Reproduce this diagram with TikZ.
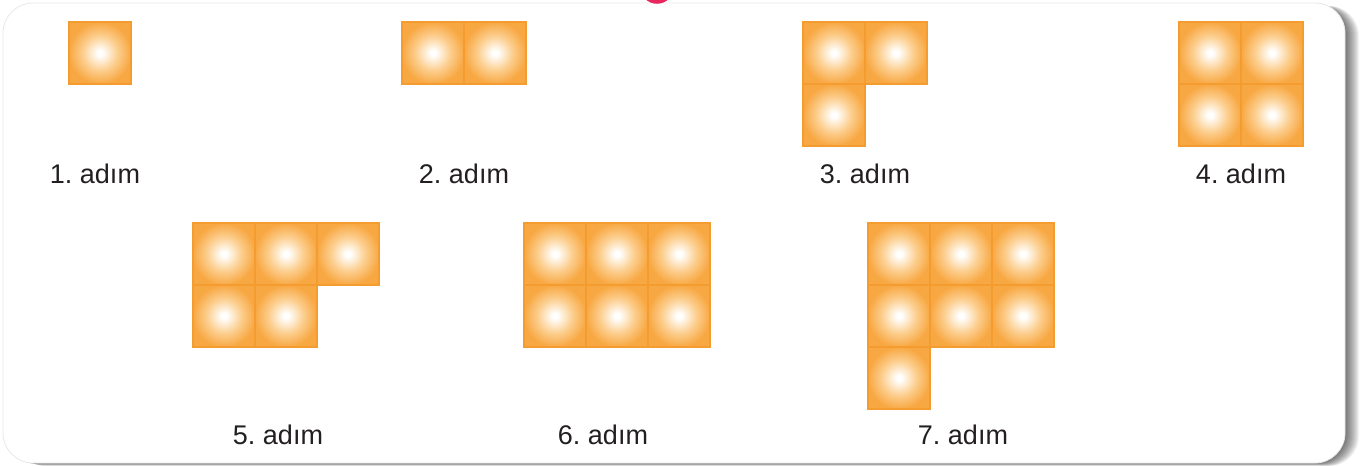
\documentclass[tikz,border=0pt]{standalone}
\usepackage{fontspec}
\setmainfont{Liberation Sans}
\definecolor{tileor}{HTML}{F8A843}
\definecolor{tileedge}{HTML}{F49C30}
\definecolor{tilemid}{HTML}{FCCE8E}
\definecolor{tilelight}{HTML}{FEEFD9}
\definecolor{txt}{HTML}{231F20}
\definecolor{pinkmark}{HTML}{E8285C}
\pgfdeclareradialshading{tileshade}{\pgfpoint{0bp}{0bp}}{color(0bp)=(white); color(2bp)=(white); color(6bp)=(tilelight); color(14bp)=(tilemid); color(25bp)=(tileor); color(50bp)=(tileor)}
\tikzset{
  tile/.style={draw=tileedge, line width=2pt, shading=tileshade, minimum size=62pt, inner sep=0pt, outer sep=0pt, anchor=north west},
  lbl/.style={font=\fontsize{27}{30}\selectfont\frenchspacing, text=txt, anchor=base, inner sep=0pt},
  card/.style={fill=white, draw=gray!18, line width=0.8pt, rounded corners=30pt},
  shadowlayer/.style={fill=black, opacity=0.05, rounded corners=30pt},
}
\begin{document}
\begin{tikzpicture}[x=1pt,y=-1pt]
\useasboundingbox (0,0) rectangle (1361,466);
\begin{scope}
\clip (0,0) rectangle (1361,466);
% shadow
\foreach \i in {1,...,14} {
  \fill[shadowlayer] (3+\i,6) rectangle (1345+\i,463+\i*0.22);
}
% card
\path[card] (3,3) rectangle (1345,463);
% pink mark at the top
\draw[pinkmark, line width=3.5pt] (657,-13) circle (15);
\end{scope}
% step 1
\node[tile] (a1) at (69,22) {};
% step 2
\node[tile] (b1) at (402,22) {};
\node[tile] (b2) at (464,22) {};
% step 3
\node[tile] (c1) at (803,22) {};
\node[tile] (c2) at (865,22) {};
\node[tile] (c3) at (803,84) {};
% step 4
\node[tile] (d1) at (1179,22) {};
\node[tile] (d2) at (1241,22) {};
\node[tile] (d3) at (1179,84) {};
\node[tile] (d4) at (1241,84) {};
% step 5
\node[tile] (e1) at (193,223) {};
\node[tile] (e2) at (255,223) {};
\node[tile] (e3) at (317,223) {};
\node[tile] (e4) at (193,285) {};
\node[tile] (e5) at (255,285) {};
% step 6
\node[tile] (f1) at (524,223) {};
\node[tile] (f2) at (586,223) {};
\node[tile] (f3) at (648,223) {};
\node[tile] (f4) at (524,285) {};
\node[tile] (f5) at (586,285) {};
\node[tile] (f6) at (648,285) {};
% step 7
\node[tile] (g1) at (868,223) {};
\node[tile] (g2) at (930,223) {};
\node[tile] (g3) at (992,223) {};
\node[tile] (g4) at (868,285) {};
\node[tile] (g5) at (930,285) {};
\node[tile] (g6) at (992,285) {};
\node[tile] (g7) at (868,347) {};
% labels
\node[lbl] (l1) at (95,183) {1. adım};
\node[lbl] (l2) at (464,183) {2. adım};
\node[lbl] (l3) at (865,183) {3. adım};
\node[lbl] (l4) at (1241,183) {4. adım};
\node[lbl] (l5) at (278,444) {5. adım};
\node[lbl] (l6) at (603,444) {6. adım};
\node[lbl] (l7) at (963,444) {7. adım};
\end{tikzpicture}
\end{document}
